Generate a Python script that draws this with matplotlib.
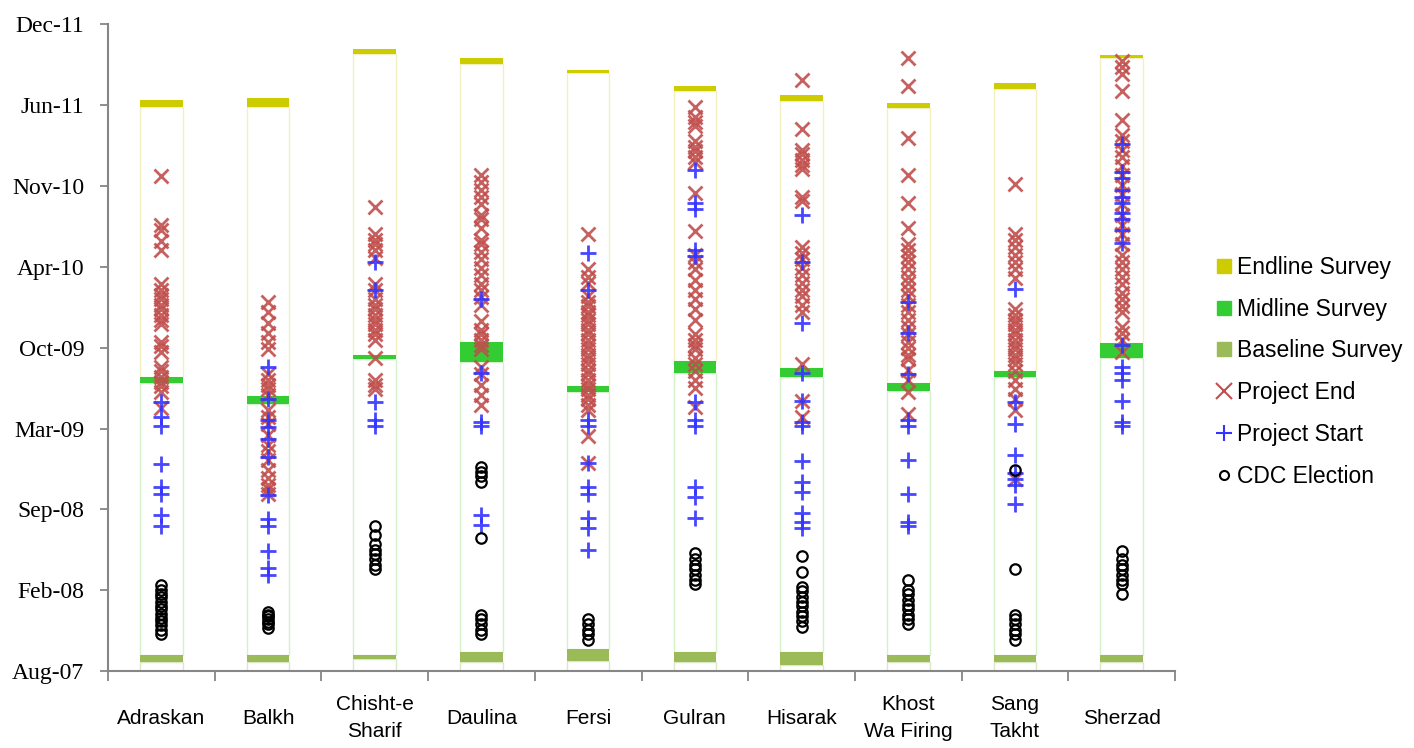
import numpy as np
import matplotlib
matplotlib.use('Agg')
import matplotlib.pyplot as plt
from matplotlib.lines import Line2D
from datetime import datetime, timedelta

# districts on the x axis
districts = ['Adraskan', 'Balkh', 'Chisht-e\nSharif', 'Daulina', 'Fersi', 'Gulran',
             'Hisarak', 'Khost\nWa Firing', 'Sang\nTakht', 'Sherzad']

# survey periods (decimal years, start / end)
baseline_start = [2007.64, 2007.64, 2007.66, 2007.64, 2007.65, 2007.64, 2007.62, 2007.64, 2007.64, 2007.64]
baseline_end   = [2007.69, 2007.69, 2007.69, 2007.71, 2007.73, 2007.71, 2007.71, 2007.69, 2007.69, 2007.69]
midline_start  = [2009.53, 2009.39, 2009.69, 2009.67, 2009.47, 2009.60, 2009.57, 2009.48, 2009.57, 2009.70]
midline_end    = [2009.57, 2009.44, 2009.72, 2009.81, 2009.51, 2009.68, 2009.63, 2009.53, 2009.61, 2009.80]
endline_start  = [2011.40, 2011.40, 2011.76, 2011.69, 2011.63, 2011.51, 2011.44, 2011.39, 2011.52, 2011.73]
endline_end    = [2011.45, 2011.46, 2011.79, 2011.73, 2011.65, 2011.54, 2011.48, 2011.43, 2011.56, 2011.75]

# project end dates per district
project_end = [
    [2010.93, 2010.60, 2010.57, 2010.49, 2010.43, 2010.20, 2010.16, 2010.13, 2010.10, 2010.06, 2010.03,
     2009.99, 2009.96, 2009.93, 2009.81, 2009.78, 2009.74, 2009.64, 2009.61, 2009.57, 2009.54, 2009.51,
     2009.47, 2009.36],
    [2010.08, 2010.01, 2009.94, 2009.87, 2009.81, 2009.76, 2009.59, 2009.55, 2009.52, 2009.49, 2009.45,
     2009.35, 2009.30, 2009.25, 2009.18, 2009.11, 2009.07, 2009.01, 2008.94, 2008.89, 2008.84, 2008.81,
     2008.78],
    [2010.72, 2010.54, 2010.50, 2010.47, 2010.43, 2010.38, 2010.20, 2010.16, 2010.10, 2010.06, 2010.03,
     2009.99, 2009.96, 2009.93, 2009.89, 2009.86, 2009.82, 2009.70, 2009.55, 2009.52, 2009.49],
    [2010.94, 2010.89, 2010.84, 2010.79, 2010.74, 2010.67, 2010.64, 2010.58, 2010.50, 2010.47, 2010.42,
     2010.37, 2010.31, 2010.26, 2010.20, 2010.16, 2010.11, 2010.06, 2009.95, 2009.89, 2009.86, 2009.82,
     2009.79, 2009.76, 2009.64, 2009.59, 2009.52, 2009.45, 2009.38],
    [2010.54, 2010.30, 2010.25, 2010.21, 2010.12, 2010.08, 2010.05, 2010.01, 2009.99, 2009.96, 2009.93,
     2009.89, 2009.86, 2009.82, 2009.79, 2009.76, 2009.72, 2009.69, 2009.66, 2009.62, 2009.59, 2009.55,
     2009.52, 2009.49, 2009.45, 2009.42, 2009.38, 2009.35, 2009.17, 2008.99],
    [2011.40, 2011.33, 2011.30, 2011.27, 2011.17, 2011.13, 2011.10, 2011.06, 2011.03, 2010.82, 2010.56,
     2010.40, 2010.35, 2010.30, 2010.23, 2010.16, 2010.10, 2010.03, 2009.96, 2009.86, 2009.82, 2009.79,
     2009.76, 2009.70, 2009.66, 2009.61, 2009.55, 2009.50, 2009.37],
    [2011.58, 2011.25, 2011.11, 2011.08, 2011.04, 2011.01, 2010.98, 2010.79, 2010.76, 2010.45, 2010.41,
     2010.37, 2010.31, 2010.26, 2010.21, 2010.16, 2010.12, 2010.06, 2010.01, 2009.66, 2009.41, 2009.30],
    [2011.73, 2011.54, 2011.19, 2010.94, 2010.75, 2010.58, 2010.47, 2010.43, 2010.39, 2010.35, 2010.30,
     2010.25, 2010.21, 2010.16, 2010.12, 2010.06, 2010.01, 2009.96, 2009.91, 2009.86, 2009.81, 2009.77,
     2009.72, 2009.69, 2009.62, 2009.55, 2009.47, 2009.32],
    [2010.88, 2010.54, 2010.50, 2010.45, 2010.40, 2010.35, 2010.30, 2010.24, 2010.03, 2009.99, 2009.96,
     2009.93, 2009.89, 2009.86, 2009.82, 2009.79, 2009.76, 2009.72, 2009.69, 2009.66, 2009.61, 2009.55,
     2009.49, 2009.42, 2009.35, 2008.88],
    [2011.71, 2011.67, 2011.62, 2011.51, 2011.31, 2011.21, 2011.17, 2011.11, 2011.06, 2011.00, 2010.94,
     2010.87, 2010.81, 2010.74, 2010.67, 2010.60, 2010.54, 2010.47, 2010.40, 2010.35, 2010.30, 2010.25,
     2010.20, 2010.14, 2010.10, 2010.05, 2010.01, 2009.91, 2009.87, 2009.82, 2009.74],
]

# project start dates per district
project_start = [
    [2009.40, 2009.30, 2009.24, 2008.98, 2008.83, 2008.78, 2008.64, 2008.56],
    [2009.64, 2009.42, 2009.28, 2009.23, 2009.15, 2009.03, 2008.77, 2008.61, 2008.56, 2008.39, 2008.28, 2008.23],
    [2010.35, 2010.16, 2009.40, 2009.28, 2009.24],
    [2010.10, 2009.60, 2009.27, 2009.24, 2008.64, 2008.57],
    [2010.41, 2010.16, 2009.28, 2009.24, 2008.99, 2008.83, 2008.78, 2008.62, 2008.55, 2008.40],
    [2010.97, 2010.75, 2010.71, 2010.43, 2010.39, 2009.40, 2009.28, 2009.24, 2008.83, 2008.76, 2008.62],
    [2010.67, 2010.35, 2009.94, 2009.60, 2009.41, 2009.27, 2009.24, 2009.00, 2008.86, 2008.79, 2008.65,
     2008.59, 2008.55],
    [2010.08, 2009.87, 2009.59, 2009.28, 2009.24, 2009.01, 2008.78, 2008.59, 2008.56],
    [2010.17, 2009.40, 2009.25, 2009.04, 2008.92, 2008.88, 2008.84, 2008.71],
    [2011.15, 2010.96, 2010.92, 2010.84, 2010.79, 2010.75, 2010.68, 2010.64, 2010.57, 2010.48, 2009.79,
     2009.64, 2009.60, 2009.55, 2009.41, 2009.27, 2009.24],
]

# CDC election dates per district
cdc_election = [
    [2008.16, 2008.13, 2008.10, 2008.08, 2008.05, 2008.02, 2008.00, 2007.97, 2007.94, 2007.92, 2007.89,
     2007.86, 2007.83],
    [2007.98, 2007.96, 2007.95, 2007.93, 2007.91, 2007.90, 2007.87],
    [2008.56, 2008.50, 2008.44, 2008.40, 2008.37, 2008.34, 2008.30, 2008.27],
    [2008.96, 2008.93, 2008.90, 2008.86, 2008.48, 2007.96, 2007.93, 2007.90, 2007.86, 2007.83],
    [2007.93, 2007.90, 2007.86, 2007.83, 2007.79],
    [2008.38, 2008.34, 2008.30, 2008.27, 2008.23, 2008.20, 2008.17],
    [2008.36, 2008.25, 2008.15, 2008.12, 2008.08, 2008.05, 2008.02, 2007.98, 2007.95, 2007.92, 2007.88],
    [2008.20, 2008.13, 2008.10, 2008.06, 2008.03, 2008.00, 2007.96, 2007.93, 2007.90],
    [2008.94, 2008.27, 2007.96, 2007.93, 2007.90, 2007.86, 2007.83, 2007.79],
    [2008.39, 2008.34, 2008.30, 2008.27, 2008.23, 2008.20, 2008.17, 2008.10],
]


def dec_year(d):
    y0 = datetime(d.year, 1, 1)
    return d.year + (d - y0).days / (datetime(d.year + 1, 1, 1) - y0).days


c_end = '#CCCC00'
c_mid = '#33CC33'
c_base = '#9BBB59'
c_x = '#C0504D'
c_plus = '#3333FF'
grey = '#868686'

tick_dates = [datetime(2007, 8, 1) + timedelta(days=200 * k) for k in range(9)]
tick_pos = [dec_year(d) for d in tick_dates]
ymin, ymax = tick_pos[0], tick_pos[-1]

fig = plt.figure(figsize=(14.14, 7.48), dpi=100)
ax = fig.add_axes([108 / 1414, 77 / 748, 1067 / 1414, 647 / 748])

x = np.arange(len(districts))
w = 0.4
bs, be = np.array(baseline_start), np.array(baseline_end)
ms_, me = np.array(midline_start), np.array(midline_end)
es, ee = np.array(endline_start), np.array(endline_end)

# outline boxes
ax.bar(x, bs - ymin, w, bottom=ymin, color='white', edgecolor='#dbe8c8', lw=1, zorder=1)
ax.bar(x, ms_ - be, w, bottom=be, color='white', edgecolor='#d6f0cc', lw=1, zorder=1)
ax.bar(x, es - me, w, bottom=me, color='white', edgecolor='#f0f0c0', lw=1, zorder=1)
# survey bands
ax.bar(x, be - bs, w, bottom=bs, color=c_base, lw=0, zorder=2)
ax.bar(x, me - ms_, w, bottom=ms_, color=c_mid, lw=0, zorder=2)
ax.bar(x, ee - es, w, bottom=es, color=c_end, lw=0, zorder=2)

for i in range(len(districts)):
    ax.plot(np.full(len(project_end[i]), i), project_end[i], ls='none', marker='x',
            ms=10, mew=2, color=c_x, alpha=0.9, zorder=3)
    ax.plot(np.full(len(project_start[i]), i), project_start[i], ls='none', marker='+',
            ms=11, mew=2, color=c_plus, alpha=0.9, zorder=4)
    ax.plot(np.full(len(cdc_election[i]), i), cdc_election[i], ls='none', marker='o',
            ms=7.5, mew=1.6, mfc='none', mec='black', zorder=5)

ax.set_xlim(-0.5, len(districts) - 0.5)
ax.set_ylim(ymin, ymax)

ax.set_yticks(tick_pos)
ax.set_yticklabels([d.strftime('%b-%y') for d in tick_dates], family='Liberation Serif', fontsize=17)
ax.tick_params(axis='y', length=6, width=1.3, color=grey, pad=11)

ax.set_xticks(x)
ax.set_xticklabels(districts, family='Liberation Sans', fontsize=15, va='center', linespacing=1.5)
ax.tick_params(axis='x', which='major', length=0, pad=34)
ax.set_xticks(np.arange(-0.5, len(districts)), minor=True)
ax.tick_params(axis='x', which='minor', length=7, width=1.3, color=grey)

for s in ['top', 'right']:
    ax.spines[s].set_visible(False)
for s in ['left', 'bottom']:
    ax.spines[s].set_color(grey)
    ax.spines[s].set_linewidth(1.5)

handles = [
    Line2D([], [], ls='none', marker='s', ms=10, color=c_end),
    Line2D([], [], ls='none', marker='s', ms=10, color=c_mid),
    Line2D([], [], ls='none', marker='s', ms=10, color=c_base),
    Line2D([], [], ls='none', marker='x', ms=11, mew=1.5, color=c_x),
    Line2D([], [], ls='none', marker='+', ms=12, mew=1.5, color=c_plus),
    Line2D([], [], ls='none', marker='o', ms=6.5, mew=1.5, mfc='none', mec='black'),
]
labels = ['Endline Survey', 'Midline Survey', 'Baseline Survey', 'Project End',
          'Project Start', 'CDC Election']
fig.legend(handles, labels, loc='center left', bbox_to_anchor=(0.852, 0.503), frameon=False,
           prop={'family': 'Liberation Sans', 'size': 16.5}, handlelength=0.65,
           handletextpad=0.25, labelspacing=0.82, borderpad=0)

plt.savefig('out.png', dpi=100)
